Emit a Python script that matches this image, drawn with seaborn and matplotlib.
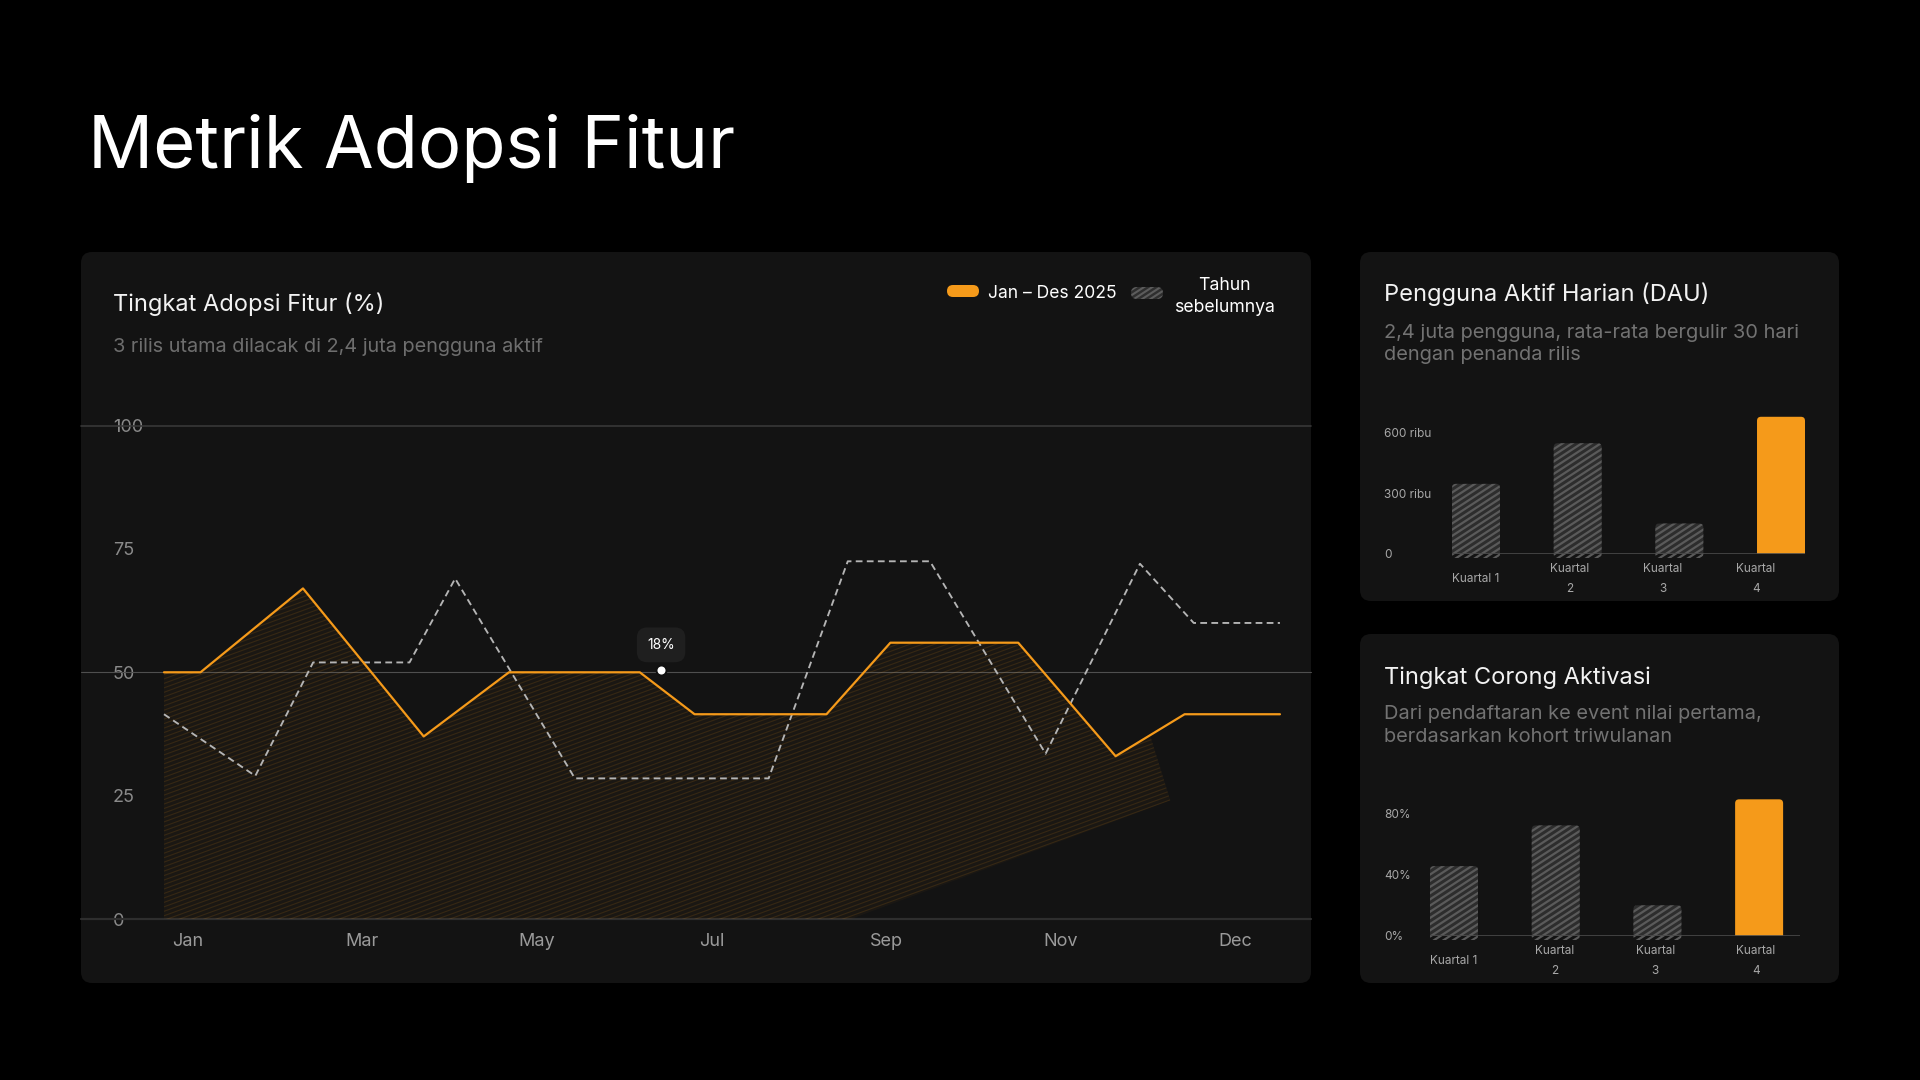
import numpy as np
import matplotlib
matplotlib.use('Agg')
import matplotlib.pyplot as plt
import seaborn as sns
from matplotlib.patches import FancyBboxPatch, Polygon
from matplotlib.collections import LineCollection
from matplotlib.transforms import IdentityTransform

# ---------------- data ----------------
month_labels = ['Jan', 'Mar', 'May', 'Jul', 'Sep', 'Nov', 'Dec']

# x in month units, Jan = 0 ... Dec = 11
adopt_x = [0, 0.36, 1.37, 2.56, 3.40, 4.69, 5.23, 6.53, 7.16, 8.42, 9.38, 10.06, 11]
adopt_y = [50, 50, 67, 37, 50, 50, 41.5, 41.5, 56, 56, 33, 41.5, 41.5]

prev_x = [0, 0.90, 1.47, 2.42, 2.87, 4.05, 5.96, 6.74, 7.55, 8.69, 9.62, 10.15, 11]
prev_y = [41.5, 29, 52, 52, 69, 28.5, 28.5, 72.5, 72.5, 33.5, 72, 60, 60]

# hatched band under the 2025 line
band_end_x = 9.72
band_low_x = [0, 6.77, 9.92]
band_low_y = [0, 0, 24]

tip_x, tip_y, tip_text = 4.90, 50.5, '18%'

quarters = ['Kuartal 1', 'Kuartal\n2', 'Kuartal\n3', 'Kuartal\n4']
dau_values = [345, 545, 150, 675]        # ribu pengguna
funnel_values = [45.5, 72, 20, 89]       # persen

# ---------------- style ----------------
W, H = 1920, 1080
BG = '#000000'
CARD = '#131313'
ORANGE = '#F59A1A'
BAR_GRAY = '#2d2d2d'
STRIPE_GRAY = '#5a5a5a'
DASH_GRAY = '#b5b5b5'

sns.set_theme(style='dark')
plt.rcParams['font.family'] = ['Inter', 'DejaVu Sans']
plt.rcParams['axes.unicode_minus'] = False

fig = plt.figure(figsize=(19.2, 10.8), dpi=100, facecolor=BG)


def px_axes(left, top, right, bottom, z=2):
    a = fig.add_axes([left / W, 1 - bottom / H, (right - left) / W, (bottom - top) / H], zorder=z)
    a.set_facecolor('none')
    a.grid(False)
    for s in a.spines.values():
        s.set_visible(False)
    return a


def add_stripes(ax, patch, gap, angle, color, lw, alpha=1.0):
    # diagonal lines in pixel space, clipped to the patch outline
    bb = patch.get_window_extent()
    t = np.tan(np.radians(angle))
    x0, x1 = bb.x0 - 4, bb.x1 + 4
    step = gap / np.cos(np.radians(angle))
    cs = np.arange(bb.y0 - t * x1 - step, bb.y1 - t * x0 + step, step)
    segs = [[(x0, t * x0 + c), (x1, t * x1 + c)] for c in cs]
    lc = LineCollection(segs, colors=color, linewidths=lw, alpha=alpha,
                        transform=IdentityTransform(), zorder=patch.get_zorder() + 0.1)
    lc.set_clip_path(patch)
    ax.add_collection(lc, autolim=False)


# ---------------- background layer (pixel coords) ----------------
bg = fig.add_axes([0, 0, 1, 1], zorder=0)
bg.set_xlim(0, W)
bg.set_ylim(H, 0)
bg.axis('off')


def card(x0, y0, x1, y1):
    bg.add_patch(FancyBboxPatch((x0, y0), x1 - x0, y1 - y0,
                                boxstyle='round,pad=0,rounding_size=11',
                                fc=CARD, ec='none', zorder=1))


card(81, 252, 1311, 983)
card(1360, 252, 1839, 601)
card(1360, 634, 1839, 983)

bg.text(88, 168, 'Metrik Adopsi Fitur', color='white', fontsize=52, va='baseline')

# main card texts
bg.text(113, 310.5, 'Tingkat Adopsi Fitur (%)', color='#f2f2f2', fontsize=17, va='baseline')
bg.text(113, 352, '3 rilis utama dilacak di 2,4 juta pengguna aktif', color='#6e6e6e',
        fontsize=14.3, va='baseline')

# legend
pill_orange = FancyBboxPatch((947, 285), 32, 12, boxstyle='round,pad=0,rounding_size=6',
                             fc=ORANGE, ec='none', zorder=3)
bg.add_patch(pill_orange)
bg.text(988, 298, 'Jan – Des 2025', color='white', fontsize=12.6, va='baseline')
pill_gray = FancyBboxPatch((1131, 287), 32, 12, boxstyle='round,pad=0,rounding_size=6',
                           fc='#2e2e2e', ec='none', zorder=3)
bg.add_patch(pill_gray)
# multi-line baseline anchors the last line
bg.text(1224, 311.5, 'Tahun\nsebelumnya', color='white', fontsize=12.7, va='baseline',
        ha='center', linespacing=1.36, multialignment='center')

# right card texts
bg.text(1384, 301.5, 'Pengguna Aktif Harian (DAU)', color='#f2f2f2', fontsize=17, va='baseline')
bg.text(1384, 360, '2,4 juta pengguna, rata-rata bergulir 30 hari\ndengan penanda rilis',
        color='#727272', fontsize=14.4, va='baseline', linespacing=1.3)
bg.text(1384, 684, 'Tingkat Corong Aktivasi', color='#f2f2f2', fontsize=17, va='baseline')
bg.text(1384, 741.5, 'Dari pendaftaran ke event nilai pertama,\nberdasarkan kohort triwulanan',
        color='#727272', fontsize=14.4, va='baseline', linespacing=1.3)

# ---------------- main line chart ----------------
ax = px_axes(81, 425.6, 1311, 919)

top_x = [x for x in adopt_x if x < band_end_x] + [band_end_x]
top_y = [y for x, y in zip(adopt_x, adopt_y) if x < band_end_x] + [np.interp(band_end_x, adopt_x, adopt_y)]
verts = list(zip(top_x, top_y)) + list(zip(band_low_x[::-1], band_low_y[::-1]))
band = Polygon(verts, closed=True, fc=ORANGE, alpha=0.035, ec='none', zorder=2)
ax.add_patch(band)

for v, c, lw in [(100, '#383838', 1.2), (50, '#4f4f4f', 0.8), (0, '#2e2e2e', 1.6)]:
    ax.axhline(v, color=c, lw=lw, zorder=1, clip_on=False)

sns.lineplot(x=prev_x, y=prev_y, ax=ax, color=DASH_GRAY, linewidth=1.35, sort=False, zorder=3)
ax.lines[-1].set_dashes((3.6, 2.3))
sns.lineplot(x=adopt_x, y=adopt_y, ax=ax, color=ORANGE, linewidth=1.6, sort=False, zorder=4)

ax.scatter([tip_x], [tip_y], s=52, color='white', edgecolor='#111111', linewidth=1.4, zorder=6)
ax.annotate(tip_text, (tip_x, tip_y), xytext=(0, 18), textcoords='offset points',
            ha='center', va='center', color='white', fontsize=10, zorder=7,
            bbox=dict(boxstyle='round,pad=0.75,rounding_size=0.75', fc='#1f1f1f', ec='none'))

ax.set_xlim(-0.818, 11.306)
ax.set_ylim(0, 100)
ax.set_xticks(np.linspace(0.23, 10.56, len(month_labels)), month_labels)
ax.set_yticks([0, 25, 50, 75, 100])
ax.tick_params(axis='x', length=0, pad=10, labelsize=13, labelcolor='#9a9a9a')
ax.tick_params(axis='y', length=0, pad=-23, labelsize=13, labelcolor='#8a8a8a')
for lbl in ax.get_yticklabels():
    lbl.set_ha('left')
ax.set(xlabel='', ylabel='')


# ---------------- bar panels ----------------
def bar_panel(left, top, right, bottom, values, ylim, yticks, ylabels, xlim, px_per_y, label_step):
    bax = px_axes(left, top, right, bottom)
    sns.barplot(x=quarters, y=values, hue=quarters, palette=[BAR_GRAY] * 3 + [ORANGE],
                legend=False, width=0.472, saturation=1, ax=bax)
    rx = 4 / 101.7
    ry = 4 / px_per_y
    bars = []
    for rect in list(bax.patches):
        x, w, h, fc = rect.get_x(), rect.get_width(), rect.get_height(), rect.get_facecolor()
        rect.remove()
        p = FancyBboxPatch((x, -ry), w, h + ry, boxstyle=f'round,pad=0,rounding_size={rx}',
                           mutation_aspect=ry / rx, fc=fc, ec='none', zorder=2)
        bax.add_patch(p)
        bars.append(p)
    bax.axhline(0, color='#4a4a4a', lw=1.2, zorder=3)
    bax.set_xlim(*xlim)
    bax.set_ylim(*ylim)
    # category labels sit on their own, slightly tighter spacing than the bars
    bax.set_xticks(np.arange(len(quarters)) * label_step, quarters)
    bax.set_yticks(yticks, ylabels)
    bax.tick_params(axis='y', length=0, pad=(left - 1384) * 0.72, labelsize=8.5, labelcolor='#a8a8a8')
    bax.tick_params(axis='x', length=0, pad=18, labelsize=8.5, labelcolor='#a8a8a8')
    for lbl in bax.get_yticklabels():
        lbl.set_ha('left')
    for lbl in bax.get_xticklabels():
        lbl.set_va('center')
        lbl.set_linespacing(1.9)
    bax.set(xlabel='', ylabel='')
    return bax, bars


dau_ax, dau_bars = bar_panel(1452, 411.7, 1805, 554, dau_values, (0, 700), [0, 300, 600],
                             ['0', '300 ribu', '600 ribu'], (-0.236, 3.236), 61 / 300, 0.918)
fun_ax, fun_bars = bar_panel(1430, 790.1, 1800, 936, funnel_values, (0, 95), [0, 40, 80],
                             ['0%', '40%', '80%'], (-0.236, 3.402), 1.536, 0.99)

# ---------------- stripe textures (need final layout) ----------------
fig.canvas.draw()
add_stripes(ax, band, gap=4.2, angle=20, color=ORANGE, lw=0.8, alpha=0.13)
for b in dau_bars[:3] + fun_bars[:3]:
    add_stripes(b.axes, b, gap=5.2, angle=33, color=STRIPE_GRAY, lw=1.6)
add_stripes(bg, pill_gray, gap=4.5, angle=33, color='#5c5c5c', lw=1.5)

fig.savefig('out.png', dpi=100, facecolor=BG)
